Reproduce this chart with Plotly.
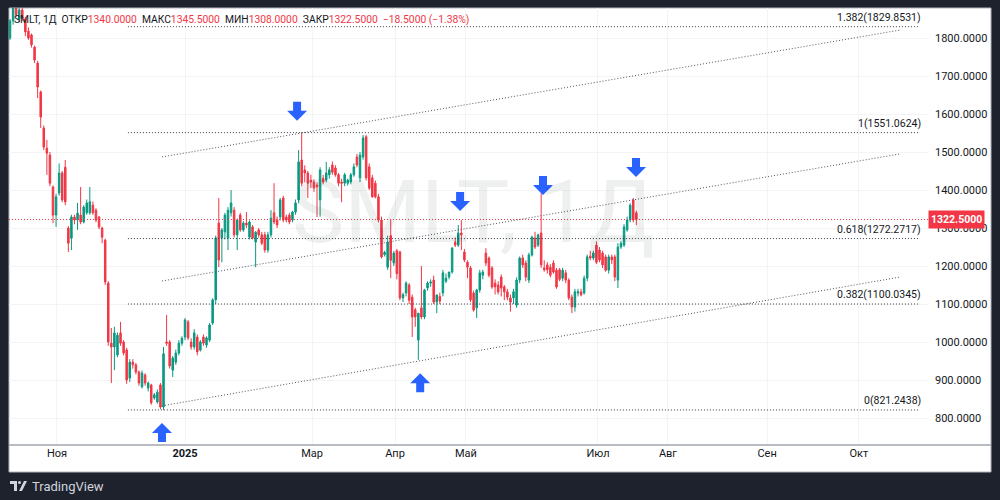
import plotly.graph_objects as go

# ---------------- data ----------------
opens = [1800, 1845, 1880, 1850, 1874, 1850, 1818, 1808, 1776, 1734,
         1658, 1563, 1510, 1492, 1408, 1334, 1392, 1445, 1460, 1300,
         1273, 1329, 1321, 1334, 1316, 1340, 1340, 1360, 1347, 1329,
         1300, 1268, 1155, 997, 987, 966, 1024, 1000, 979, 905,
         947, 940, 921, 882, 913, 879, 887, 853, 842, 887,
         829, 1000, 1000, 926, 947, 971, 997, 1013, 1053, 1000,
         987, 1013, 979, 1013, 992, 1005, 1050, 1111, 1313, 1274,
         1290, 1274, 1340, 1347, 1282, 1334, 1295, 1313, 1276, 1303,
         1263, 1295, 1282, 1282, 1242, 1282, 1340, 1321, 1329, 1379,
         1329, 1334, 1321, 1342, 1374, 1479, 1453, 1445, 1426, 1421,
         1413, 1374, 1431, 1426, 1440, 1466, 1458, 1440, 1421, 1418,
         1418, 1421, 1440, 1487, 1432, 1487, 1540, 1461, 1432, 1418,
         1382, 1321, 1230, 1197, 1280, 1208, 1240, 1237, 1116, 1129,
         1150, 1118, 1085, 1005, 1090, 1066, 1142, 1155, 1163, 1105,
         1120, 1129, 1160, 1171, 1184, 1263, 1255, 1287, 1237, 1210,
         1195, 1129, 1090, 1137, 1176, 1234, 1221, 1195, 1155, 1150,
         1171, 1145, 1132, 1116, 1116, 1097, 1163, 1221, 1208, 1163,
         1229, 1274, 1255, 1287, 1195, 1203, 1197, 1208, 1189, 1190,
         1168, 1182, 1163, 1118, 1092, 1129, 1132, 1129, 1168, 1226,
         1221, 1255, 1242, 1234, 1224, 1189, 1224, 1224, 1163, 1250,
         1255, 1295, 1321, 1374, 1340]
highs = [1850, 1900, 1905, 1885, 1882, 1856, 1828, 1812, 1780, 1740,
         1662, 1570, 1532, 1500, 1412, 1390, 1470, 1450, 1479, 1305,
         1335, 1335, 1366, 1408, 1360, 1375, 1408, 1370, 1352, 1332,
         1303, 1272, 1160, 1037, 1040, 1025, 1053, 1005, 985, 955,
         955, 945, 925, 925, 918, 896, 890, 866, 875, 892,
         987, 1071, 1005, 963, 980, 1005, 1015, 1063, 1058, 1010,
         1034, 1020, 1005, 1020, 1015, 1050, 1115, 1280, 1379, 1300,
         1340, 1355, 1400, 1355, 1325, 1340, 1318, 1342, 1320, 1308,
         1292, 1300, 1290, 1290, 1290, 1347, 1418, 1330, 1379, 1385,
         1335, 1340, 1345, 1375, 1505, 1551, 1465, 1450, 1440, 1428,
         1420, 1460, 1440, 1474, 1460, 1475, 1465, 1445, 1430, 1445,
         1430, 1445, 1470, 1495, 1500, 1545, 1545, 1470, 1440, 1425,
         1390, 1330, 1240, 1280, 1321, 1240, 1245, 1240, 1130, 1160,
         1155, 1125, 1090, 1076, 1200, 1140, 1160, 1165, 1175, 1125,
         1130, 1190, 1180, 1185, 1250, 1275, 1308, 1321, 1245, 1215,
         1200, 1135, 1140, 1190, 1190, 1247, 1225, 1200, 1165, 1160,
         1178, 1150, 1140, 1125, 1140, 1170, 1225, 1230, 1215, 1235,
         1280, 1290, 1285, 1392, 1215, 1210, 1205, 1215, 1195, 1195,
         1195, 1190, 1168, 1125, 1140, 1140, 1140, 1175, 1230, 1240,
         1240, 1265, 1250, 1240, 1230, 1230, 1230, 1230, 1260, 1265,
         1310, 1330, 1365, 1379, 1345.5]
lows = [1795, 1835, 1855, 1842, 1845, 1805, 1795, 1775, 1734, 1642,
        1563, 1505, 1440, 1410, 1313, 1303, 1385, 1368, 1360, 1237,
        1242, 1310, 1295, 1310, 1312, 1335, 1335, 1335, 1315, 1297,
        1260, 1150, 990, 892, 926, 960, 990, 965, 890, 895,
        930, 915, 885, 878, 885, 870, 835, 848, 838, 823,
        821, 990, 930, 908, 940, 965, 990, 1005, 1005, 980,
        980, 965, 975, 990, 985, 1000, 1045, 1100, 1197, 1210,
        1270, 1242, 1330, 1275, 1242, 1290, 1290, 1300, 1270, 1270,
        1197, 1275, 1255, 1235, 1235, 1275, 1310, 1300, 1320, 1315,
        1315, 1310, 1315, 1335, 1365, 1410, 1420, 1379, 1405, 1395,
        1329, 1330, 1415, 1420, 1430, 1440, 1435, 1410, 1368, 1410,
        1412, 1415, 1435, 1460, 1421, 1480, 1425, 1400, 1380, 1378,
        1315, 1220, 1225, 1190, 1168, 1200, 1165, 1110, 1105, 1120,
        1100, 1013, 1040, 953, 1060, 1060, 1135, 1145, 1100, 1076,
        1100, 1120, 1155, 1165, 1180, 1250, 1250, 1242, 1210, 1168,
        1105, 1080, 1063, 1130, 1165, 1200, 1170, 1140, 1125, 1125,
        1120, 1110, 1110, 1080, 1100, 1090, 1155, 1195, 1160, 1155,
        1225, 1245, 1250, 1195, 1185, 1180, 1170, 1180, 1140, 1160,
        1160, 1155, 1110, 1076, 1080, 1120, 1120, 1125, 1160, 1215,
        1215, 1205, 1210, 1195, 1185, 1180, 1205, 1160, 1142, 1245,
        1250, 1290, 1315, 1315, 1308]
closes = [1845, 1880, 1862, 1874, 1852, 1816, 1800, 1782, 1742, 1671,
          1592, 1513, 1497, 1418, 1334, 1382, 1445, 1374, 1369, 1260,
          1329, 1321, 1339, 1316, 1355, 1366, 1369, 1340, 1321, 1303,
          1276, 1158, 1000, 987, 1024, 1018, 997, 971, 900, 947,
          940, 921, 892, 918, 892, 892, 840, 861, 868, 829,
          969, 997, 937, 958, 971, 997, 1010, 1058, 1011, 987,
          1024, 974, 1000, 997, 1011, 1045, 1111, 1274, 1216, 1295,
          1334, 1347, 1366, 1282, 1321, 1295, 1313, 1308, 1316, 1274,
          1289, 1282, 1260, 1242, 1282, 1326, 1316, 1308, 1374, 1321,
          1321, 1316, 1342, 1366, 1474, 1418, 1445, 1418, 1421, 1405,
          1408, 1453, 1421, 1445, 1453, 1447, 1440, 1418, 1418, 1440,
          1426, 1440, 1461, 1466, 1492, 1537, 1432, 1405, 1382, 1382,
          1321, 1224, 1236, 1263, 1215, 1234, 1180, 1116, 1125, 1155,
          1110, 1066, 1066, 1076, 1066, 1137, 1155, 1158, 1105, 1124,
          1108, 1182, 1168, 1184, 1247, 1255, 1287, 1282, 1216, 1197,
          1111, 1084, 1137, 1182, 1184, 1208, 1176, 1145, 1145, 1132,
          1142, 1132, 1118, 1105, 1132, 1163, 1221, 1203, 1171, 1229,
          1276, 1250, 1282, 1203, 1190, 1190, 1176, 1184, 1145, 1165,
          1189, 1163, 1116, 1092, 1132, 1132, 1124, 1168, 1224, 1221,
          1234, 1210, 1216, 1203, 1189, 1224, 1216, 1171, 1250, 1260,
          1303, 1321, 1360, 1321, 1322.5]
bars = list(range(len(closes)))

month_pos = [15.3, 57, 98.4, 125.4, 148.5, 191.5, 214.3, 246.6, 276.5]
month_labels = ["Ноя", "<b>2025</b>", "Мар", "Апр", "Май", "Июл", "Авг", "Сен", "Окт"]
price_ticks = [800, 900, 1000, 1100, 1200, 1300, 1400, 1500, 1600, 1700, 1800]

fib_ratios = ["1.382", "1", "0.618", "0.382", "0"]
fib_levels = [1829.8531, 1551.0624, 1272.2717, 1100.0345, 821.2438]
fib_span = [38.4, 296.4]

channel_x = [49.5, 289.9]
channel_lower = [832, 1171]
channel_mid = [1160.5, 1495]
channel_upper = [1487, 1821]

arrow_down_x = [93.5, 146.6, 173.6, 203.9]
arrow_down_y = [1582, 1345, 1387, 1434]
arrow_up_x = [49.5, 133.6]
arrow_up_y = [787, 918]

last_price = 1322.5
header = [("SMLT, 1Д  ", "#131722"), ("ОТКР", "#131722"), ("1340.0000  ", "#f23645"),
          ("МАКС", "#131722"), ("1345.5000  ", "#f23645"),
          ("МИН", "#131722"), ("1308.0000  ", "#f23645"),
          ("ЗАКР", "#131722"), ("1322.5000  ", "#f23645"),
          ("−18.5000 (−1.38%)", "#f23645")]

# ---------------- figure ----------------
FONT = "Roboto, Arial, sans-serif"
UP, DOWN = "#089981", "#f23645"
XR = [-0.33, 299.0]
YR = [729, 1879]

fig = go.Figure()

# current price line
fig.add_trace(go.Scatter(x=XR, y=[last_price, last_price], mode="lines",
                         line=dict(color="#f23645", width=1, dash="1px,2px"),
                         hoverinfo="skip"))

# fib levels
for r, lv in zip(fib_ratios, fib_levels):
    fig.add_trace(go.Scatter(x=fib_span, y=[lv, lv], mode="lines",
                             line=dict(color="#3a3d46", width=1, dash="1px,2px"),
                             hoverinfo="skip"))
    fig.add_annotation(x=fib_span[1], y=lv, xref="x", yref="y", text=f"{r}({lv:.4f})",
                       showarrow=False, xanchor="right", yanchor="bottom", yshift=1, xshift=3,
                       font=dict(family=FONT, size=10.5, color="#131722"))

# channel
for ys in (channel_lower, channel_mid, channel_upper):
    fig.add_trace(go.Scatter(x=channel_x, y=ys, mode="lines",
                             line=dict(color="#50535e", width=1, dash="1px,2px"),
                             hoverinfo="skip"))

fig.add_trace(go.Candlestick(x=bars, open=opens, high=highs, low=lows, close=closes,
                             increasing=dict(line=dict(color=UP, width=1), fillcolor=UP),
                             decreasing=dict(line=dict(color=DOWN, width=1), fillcolor=DOWN),
                             whiskerwidth=0, hoverinfo="skip"))

# arrows
down_path = "M0,0 L-10,10 L-4,10 L-4,19 L4,19 L4,10 L10,10 Z"
up_path = "M0,0 L-10,-10 L-4,-10 L-4,-19 L4,-19 L4,-10 L10,-10 Z"
for ax, ay in zip(arrow_down_x, arrow_down_y):
    fig.add_shape(type="path", xref="x", yref="y", xsizemode="pixel", ysizemode="pixel",
                  xanchor=ax, yanchor=ay, path=down_path,
                  fillcolor="#2962ff", line=dict(width=0))
for ax, ay in zip(arrow_up_x, arrow_up_y):
    fig.add_shape(type="path", xref="x", yref="y", xsizemode="pixel", ysizemode="pixel",
                  xanchor=ax, yanchor=ay, path=up_path,
                  fillcolor="#2962ff", line=dict(width=0))

# white panel + frame
PX1 = (991 - 9) / 919
PY0 = (445 - 472) / 437
fig.add_shape(type="rect", xref="paper", yref="paper", x0=0, x1=PX1, y0=PY0, y1=1,
              fillcolor="white", line=dict(color="#b2b5be", width=1), layer="below")
fig.add_shape(type="line", xref="paper", yref="paper", x0=0, x1=PX1, y0=0, y1=0,
              line=dict(color="#a3a6af", width=1.5))

# watermark
fig.add_annotation(x=0.505, y=0.535, xref="paper", yref="paper", text="SMLT, 1Д",
                   showarrow=False, font=dict(family=FONT, size=88, color="rgba(19,23,34,0.07)"))

# header
fig.add_annotation(x=3 / 919, y=(445 - 19) / 437, xref="paper", yref="paper",
                   xanchor="left", yanchor="middle", showarrow=False,
                   text="".join(f"<span style='color:{c}'>{t.replace(' ', '&nbsp;')}</span>" for t, c in header),
                   font=dict(family=FONT, size=10.3, color="#131722"))

# last price label
fig.add_annotation(x=1.0, y=last_price, xref="paper", yref="y", xanchor="left", yanchor="middle",
                   text=f"<b>{last_price:.4f}</b>", showarrow=False, bgcolor="#f23645", borderpad=2,
                   font=dict(family=FONT, size=10.5, color="white"))

# TradingView logo
fig.add_annotation(x=21 / 919, y=(445 - 486) / 437, xref="paper", yref="paper",
                   xanchor="left", yanchor="middle", showarrow=False, text="TradingView",
                   font=dict(family=FONT, size=13, color="#d1d4dc"))
fig.add_shape(type="path", xref="paper", yref="paper", xsizemode="pixel", ysizemode="pixel",
              xanchor=0, yanchor=(445 - 486) / 437,
              path="M1,5 L8,5 L8,-5 L5,-5 L5,2 L1,2 Z M15,5 L18,5 L13,-5 L10,-5 Z",
              fillcolor="#d1d4dc", line=dict(width=0))
fig.add_shape(type="circle", xref="paper", yref="paper", xsizemode="pixel", ysizemode="pixel",
              xanchor=0, yanchor=(445 - 486) / 437, x0=9, x1=12, y0=2, y1=5,
              fillcolor="#d1d4dc", line=dict(width=0))

fig.update_layout(
    width=1000, height=500,
    margin=dict(l=9, r=72, t=8, b=55),
    paper_bgcolor="#1e222d", plot_bgcolor="white",
    showlegend=False,
    xaxis=dict(range=XR, tickvals=month_pos, ticktext=month_labels, showgrid=True,
               gridcolor="#f3f4f6", zeroline=False, ticks="", showline=False,
               rangeslider=dict(visible=False),
               tickfont=dict(family=FONT, size=11, color="#131722")),
    yaxis=dict(range=YR, side="right", tickvals=price_ticks,
               ticktext=[f"{v:.4f}" for v in price_ticks], showgrid=True,
               gridcolor="#f3f4f6", zeroline=False, ticks="", showline=False,
               ticklabelstandoff=6,
               tickfont=dict(family=FONT, size=11, color="#131722")),
)

fig.write_html("out.html")
